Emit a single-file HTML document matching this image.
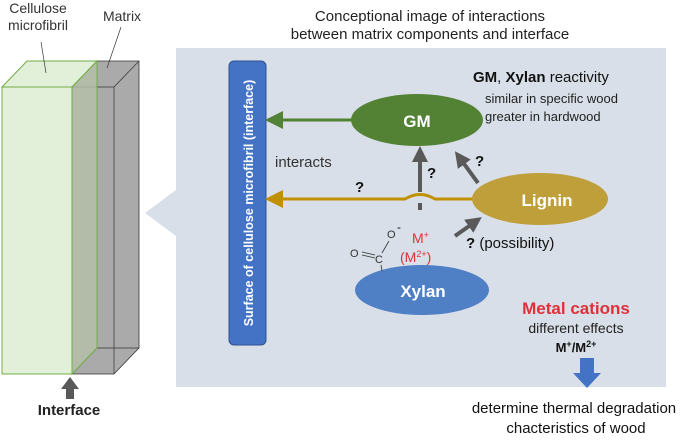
<html><body style="margin:0;background:#fff">
<svg width="685" height="440" xmlns="http://www.w3.org/2000/svg" font-family="Liberation Sans, sans-serif">
<defs>
<marker id="ag" markerWidth="6" markerHeight="6" refX="3" refY="3" orient="auto"><path d="M0,0L6,3L0,6z" fill="#548235"/></marker>
<marker id="ao" markerWidth="6" markerHeight="6" refX="3" refY="3" orient="auto"><path d="M0,0L6,3L0,6z" fill="#c09000"/></marker>
<marker id="ak" markerWidth="4" markerHeight="4" refX="1" refY="2" orient="auto"><path d="M0,0L4,2L0,4z" fill="#595959"/></marker>
</defs>
<rect x="176" y="48" width="490" height="339" fill="#d8dfe8"/>
<path d="M176,190L145,213L176,236z" fill="#d8dfe8"/>
<path d="M72,87L97,61L139,61L139,348L114,374L72,374z" fill="#aaa" stroke="#333" stroke-width="0.8"/>
<path d="M97,61L97,348L139,348M97,348L72,374M114,87L114,374M114,87L139,61M72,87L114,87" fill="none" stroke="#333" stroke-width="0.7"/>
<path d="M2,87L27,61L97,61L72,87z" fill="#e2efd9" stroke="#70ad47" stroke-width="1"/>
<rect x="2" y="87" width="70" height="287" fill="#e2efd9" stroke="#70ad47"/>
<path d="M72,87L97,61L97,348L72,374z" fill="#b4c0a8" fill-opacity="0.8" stroke="#70ad47"/>
<text x="38" y="13" font-size="14" fill="#333" text-anchor="middle">Cellulose</text>
<text x="38" y="30" font-size="14" fill="#333" text-anchor="middle">microfibril</text>
<line x1="41" y1="42" x2="46" y2="73" stroke="#333" stroke-width="0.7"/>
<text x="122" y="21" font-size="14" fill="#333" text-anchor="middle">Matrix</text>
<line x1="121" y1="27" x2="107" y2="68" stroke="#333" stroke-width="0.7"/>
<path d="M70,377L61,389L66,389L66,399L74,399L74,389L79,389z" fill="#595959"/>
<text x="69" y="415" font-size="15" font-weight="bold" fill="#222" text-anchor="middle">Interface</text>
<text x="430" y="21" font-size="15" fill="#222" text-anchor="middle">Conceptional  image of interactions</text>
<text x="430" y="39" font-size="15" fill="#222" text-anchor="middle">between matrix components and interface</text>
<rect x="229" y="61" width="37" height="284" rx="5" fill="#4472c4" stroke="#2f528f"/>
<text transform="translate(253,203) rotate(-90)" font-size="12.5" font-weight="bold" fill="#fff" text-anchor="middle">Surface of cellulose microfibril (interface)</text>
<line x1="352" y1="120" x2="274" y2="120" stroke="#548235" stroke-width="3" marker-end="url(#ag)"/>
<line x1="420" y1="210" x2="420" y2="203" stroke="#595959" stroke-width="4"/>
<line x1="420" y1="192" x2="420" y2="158" stroke="#595959" stroke-width="4" marker-end="url(#ak)"/>
<path d="M476,199L435,199Q420,190 405,199L274,199" fill="none" stroke="#c09000" stroke-width="3" marker-end="url(#ao)"/>
<line x1="478" y1="183" x2="462" y2="161" stroke="#595959" stroke-width="4" marker-end="url(#ak)"/>
<line x1="455" y1="236" x2="472" y2="224" stroke="#595959" stroke-width="4" marker-end="url(#ak)"/>
<ellipse cx="417" cy="120" rx="66" ry="26" fill="#548235"/>
<text x="417" y="127" font-size="17" font-weight="bold" fill="#fff" text-anchor="middle">GM</text>
<ellipse cx="540" cy="199" rx="68" ry="26" fill="#bf9f3a"/>
<text x="547" y="206" font-size="17" font-weight="bold" fill="#fff" text-anchor="middle">Lignin</text>
<ellipse cx="422" cy="290" rx="67" ry="25" fill="#4f7fc5"/>
<text x="423" y="297" font-size="17" font-weight="bold" fill="#fff" text-anchor="middle">Xylan</text>
<text x="275" y="167" font-size="15" fill="#333">interacts</text>
<text x="355" y="192" font-size="15" font-weight="bold" fill="#111">?</text>
<text x="427" y="178" font-size="15" font-weight="bold" fill="#111">?</text>
<text x="475" y="166" font-size="15" font-weight="bold" fill="#111">?</text>
<text x="466" y="248" font-size="15" fill="#111"><tspan font-weight="bold">?</tspan> (possibility)</text>
<text x="412" y="243" font-size="14" fill="#e0303a">M<tspan font-size="9" dy="-5">+</tspan></text>
<text x="400" y="262" font-size="14" fill="#e0303a">(M<tspan font-size="9" dy="-5">2+</tspan><tspan dy="5">)</tspan></text>
<text x="387" y="238" font-size="11" fill="#333">O</text>
<text x="397" y="231" font-size="12" fill="#111">-</text>
<text x="350" y="257" font-size="11" fill="#333">O</text>
<text x="375" y="263" font-size="11" fill="#333">C</text>
<path d="M389,241L382,253M362,252L375,255M362,255L375,258M381,265L382,271" stroke="#333" stroke-width="0.8" fill="none"/>
<text x="473" y="82" font-size="15" fill="#111"><tspan font-weight="bold">GM</tspan>, <tspan font-weight="bold">Xylan</tspan> reactivity</text>
<text x="485" y="103" font-size="13" fill="#222">similar in specific wood</text>
<text x="485" y="121" font-size="13" fill="#222">greater in hardwood</text>
<text x="576" y="314" font-size="17" font-weight="bold" fill="#e0303a" text-anchor="middle">Metal cations</text>
<text x="576" y="333" font-size="14" fill="#222" text-anchor="middle">different effects</text>
<text x="576" y="352" font-size="13" font-weight="bold" fill="#111" text-anchor="middle">M<tspan font-size="9" dy="-5">+</tspan><tspan dy="5">/M</tspan><tspan font-size="9" dy="-5">2+</tspan></text>
<path d="M580,358L594,358L594,373L601,373L587,388L573,373L580,373z" fill="#4472c4"/>
<text x="574" y="413" font-size="15" fill="#111" text-anchor="middle">determine thermal degradation</text>
<text x="576" y="433" font-size="15" fill="#111" text-anchor="middle">chacteristics of wood</text>
</svg>
</body></html>
